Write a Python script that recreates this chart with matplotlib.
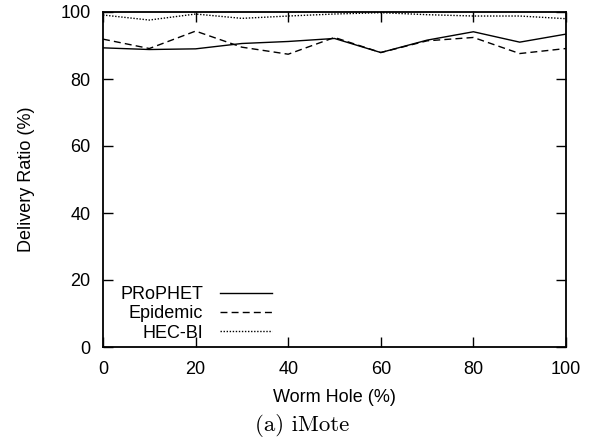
import matplotlib

matplotlib.use("Agg")
import matplotlib.pyplot as plt  # noqa: E402

# worm hole percentage (x) and delivery ratio per protocol
worm_hole = [0, 10, 20, 30, 40, 50, 60, 70, 80, 90, 100]
prophet = [89.3, 88.8, 89.0, 90.6, 91.2, 92.1, 87.9, 91.6, 94.1, 91.0, 93.4]
epidemic = [91.9, 89.1, 94.3, 89.5, 87.4, 92.4, 87.9, 91.4, 92.4, 87.6, 89.1]
hec_bi = [99.1, 97.6, 99.4, 98.1, 98.8, 99.4, 99.8, 99.2, 98.8, 98.8, 98.0]

x_ticks = [0, 20, 40, 60, 80, 100]
y_ticks = [0, 20, 40, 60, 80, 100]

plt.rcParams["font.family"] = ["Liberation Sans", "DejaVu Sans"]

fig = plt.figure(figsize=(5.96, 4.44), dpi=100)
ax = fig.add_axes([103 / 596, 97 / 444, 463 / 596, 335 / 444])

ax.plot(worm_hole, prophet, color="black", lw=1.0, ls="-", label="PRoPHET")
ax.plot(worm_hole, epidemic, color="black", lw=1.0, ls=(0, (5, 3)), label="Epidemic")
ax.plot(worm_hole, hec_bi, color="black", lw=1.0, ls=(0, (1, 1.2)), label="HEC-BI")

ax.set_xlim(0, 100)
ax.set_ylim(0, 100)
ax.set_xticks(x_ticks)
ax.set_yticks(y_ticks)
ax.tick_params(direction="in", length=7, width=1, top=True, right=True,
               labelsize=13, colors="black")
ax.tick_params(axis="x", pad=10)
ax.tick_params(axis="y", pad=9)
for s in ax.spines.values():
    s.set_linewidth(1.3)

ax.set_xlabel("Worm Hole (%)", fontsize=13, labelpad=8)
ax.set_ylabel("Delivery Ratio (%)", fontsize=13, labelpad=18)

leg = ax.legend(loc="lower left", bbox_to_anchor=(0.026, 0.0), frameon=False,
                markerfirst=False, fontsize=13, handlelength=2.9,
                labelspacing=0.12, handletextpad=0.9, borderaxespad=0.1,
                borderpad=0.2)
for t in leg.get_texts():
    t.set_ha("right")
leg._legend_box.align = "right"

fig.text(302 / 596, (444 - 425) / 444, "(a) iMote", ha="center", va="center",
         fontsize=16.5, family="cmr10")

fig.savefig("out.png", dpi=100)
